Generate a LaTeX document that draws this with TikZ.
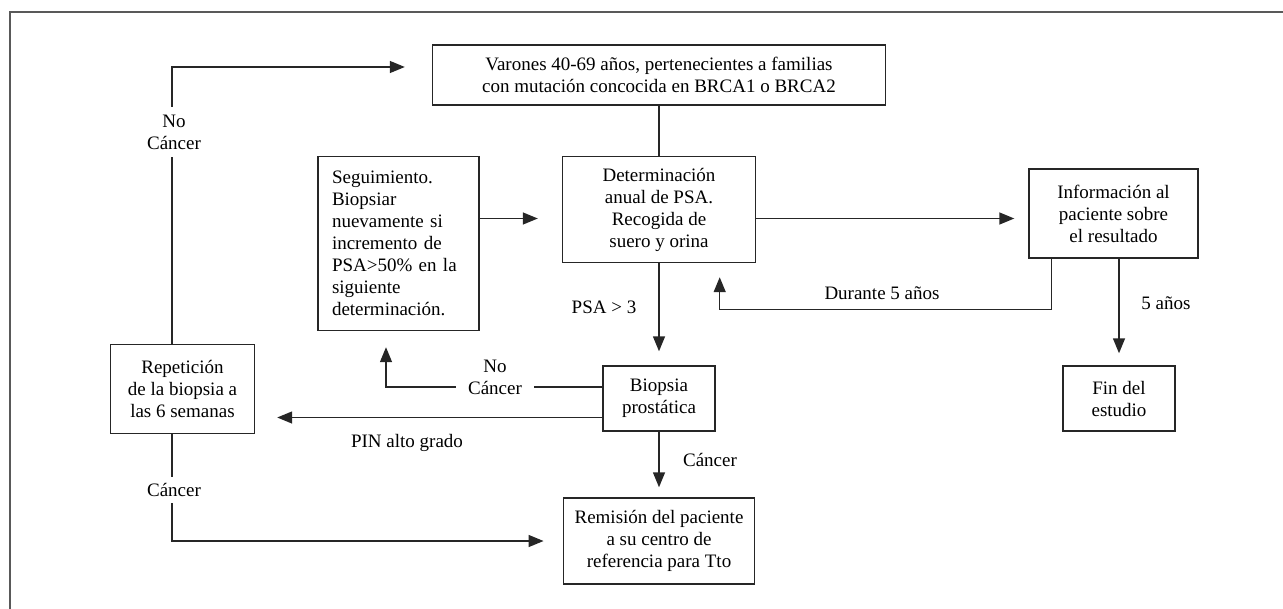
\documentclass[tikz,border=0pt]{standalone}
\usepackage{fontspec}
\setmainfont{Liberation Serif}
\usetikzlibrary{arrows.meta}
\tikzset{
    caja/.style={draw=black!85, line width=0.7pt, align=center, inner sep=2pt, font=\fontsize{9.5}{11}\selectfont},
    linea/.style={draw=black!85, line width=0.7pt},
    flecha/.style={linea, -{Triangle[length=7.5pt,width=6pt]}},
    etiqueta/.style={align=center, inner sep=1pt, font=\fontsize{9.5}{11}\selectfont},
}
\begin{document}
\begin{tikzpicture}[x=0.5pt,y=-0.5pt]
        \useasboundingbox (0,0) rectangle (1283,609);
        % frame
            \draw[black!65, line width=1pt] (10,640) -- (10,12) -- (1300,12);
        % boxes
            \node[caja, minimum width=226.5pt, minimum height=30pt] (varones) at (659,75)
                {Varones 40-69 años, pertenecientes a familias\\con mutación concocida en BRCA1 o BRCA2};
            \node[caja, align=left, text width=66.5pt, inner xsep=7pt, minimum height=87pt] (seg) at (398.5,243.5)
                {Seguimiento.\\Biopsiar\\nuevamente si\\incremento de\\PSA>50\% en la\\siguiente\\determinación.};
            \node[caja, minimum width=96.5pt, minimum height=53pt] (det) at (659,209.5)
                {Determinación\\anual de PSA.\\Recogida de\\suero y orina};
            \node[caja, minimum width=84.5pt, minimum height=44.5pt] (info) at (1113.5,213.5)
                {Información al\\paciente sobre\\el resultado};
            \node[caja, minimum width=72pt, minimum height=44.75pt] (rep) at (182.5,389)
                {Repetición\\de la biopsia a\\las 6 semanas};
            \node[caja, minimum width=56pt, minimum height=32.5pt] (biop) at (659,398.5)
                {Biopsia\\prostática};
            \node[caja, minimum width=56pt, minimum height=32.5pt] (fin) at (1119,398.5)
                {Fin del\\estudio};
            \node[caja, minimum width=95.75pt, minimum height=43pt] (rem) at (659,541)
                {Remisión del paciente\\a su centro de\\referencia para Tto};
        % connectors
            \coordinate (fila) at (0,218.5);
            \draw[linea] (varones) -- (det);
            \draw[flecha, shorten >=12pt] (seg.east |- fila) -- (det.west |- fila);
            \draw[flecha, shorten >=7pt] (det.east |- fila) -- (info.west |- fila);
            \draw[flecha, shorten >=7pt] (det) -- (biop);
            \draw[flecha, shorten >=5pt] (biop) -- (rem);
            \draw[flecha, shorten >=6pt] (info.south -| fin.north) -- (fin.north);
            \draw[flecha, shorten >=7pt] ([xshift=11.5pt]info.south west) -- ++(0,51) -| ([xshift=-18.25pt]det.south east);
            \draw[flecha, shorten >=8pt] ([yshift=5.75pt]biop.west) -| ([xshift=-6.25pt]seg.south);
            \coordinate (pin) at ([yshift=-9.5pt]biop.west);
            \draw[flecha, shorten >=11pt] (pin) -- (pin -| rep.east);
            \draw[flecha, shorten >=13.5pt] ([xshift=-5.25pt]rep.north) |- ([yshift=4pt]varones.west);
            \draw[flecha, shorten >=9.5pt] ([xshift=-5.25pt]rep.south) |- (rem.west);
        % labels
            \node[etiqueta, fill=white, inner xsep=6pt] (nocancer1) at (495,377) {No\\Cáncer};
            \node[etiqueta, fill=white, inner ysep=4pt] (nocancer2) at (174,132) {No\\Cáncer};
            \node[etiqueta, fill=white, inner ysep=3pt] (cancer2) at (174,490) {Cáncer};
            \foreach \n/\x/\y/\t in {psa/604/307/{PSA > 3}, cancer1/710/460/{Cáncer}, anios/1166/303/{5 años},
                durante/882/293/{Durante 5 años}, pin/407/443/{PIN alto grado}}{
                \node[etiqueta] (lab\n) at (\x,\y) {\t};
            }
\end{tikzpicture}
\end{document}
